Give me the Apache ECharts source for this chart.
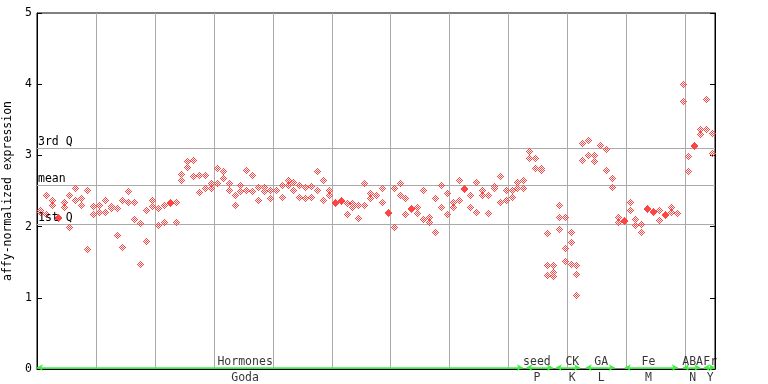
<!DOCTYPE html>
<html>
<head>
<meta charset="utf-8">
<script src="https://cdn.jsdelivr.net/npm/echarts@6/dist/echarts.min.js"></script>
<style>
html,body{margin:0;padding:0;background:#fff;}
#chart{width:768px;height:384px;}
</style>
</head>
<body>
<div id="chart"></div>
<script>
// replicate values per sample column (column i sits at i + 0.5 on the x axis)
const rep1 = [
  2.23,2.44,2.38,2.14,2.35,2.44,2.54,2.40,2.51,2.29,
  2.31,2.38,2.29,2.26,2.37,2.50,2.34,2.05,2.23,2.38,
  2.26,2.31,2.34,2.34,2.74,2.92,2.93,2.72,2.73,2.61,
  2.82,2.78,2.61,2.44,2.59,2.80,2.73,2.55,2.55,2.52,
  2.52,2.58,2.66,2.63,2.59,2.55,2.57,2.78,2.65,2.51,
  2.35,2.37,2.33,2.33,2.31,2.61,2.47,2.45,2.54,2.21,
  2.54,2.61,2.40,2.26,2.27,2.51,2.14,2.40,2.59,2.47,
  2.35,2.66,2.54,2.44,2.62,2.51,2.44,2.57,2.71,2.52,
  2.52,2.63,2.65,3.06,2.96,2.83,1.91,1.46,2.31,2.13,
  1.93,1.46,3.17,3.22,3.00,3.15,3.09,2.68,2.13,2.09,
  2.34,2.10,2.03,2.26,2.22,2.23,2.17,2.28,2.19,4.00,
  2.99,3.14,3.37,3.79,3.32
];
const rep2 = [
  2.20,2.17,2.31,2.12,2.27,1.99,2.38,2.31,1.68,2.17,
  2.20,2.21,2.26,1.88,1.71,2.34,2.10,1.48,1.80,2.29,
  2.02,2.07,2.33,2.07,2.66,2.84,2.71,2.48,2.54,2.54,
  2.61,2.68,2.52,2.30,2.50,2.52,2.50,2.38,2.50,2.40,
  2.51,2.42,2.59,2.51,2.42,2.40,2.42,2.52,2.38,2.45,
  2.33,2.36,2.17,2.27,2.12,2.30,2.40,2.44,2.35,2.19,
  2.00,2.45,2.17,2.25,2.19,2.10,2.06,1.93,2.28,2.17,
  2.27,2.37,2.53,2.28,2.20,2.45,2.19,2.54,2.34,2.38,
  2.42,2.54,2.54,2.97,2.83,2.79,1.46,1.36,2.13,1.70,
  1.78,1.34,2.93,3.00,2.92,3.14,2.79,2.56,2.06,2.08,
  2.23,2.02,1.93,2.25,2.21,2.09,2.16,2.21,null,3.77,
  2.78,3.13,3.30,3.37,3.03
];
const rep3Columns = [86, 87, 88, 89, 90, 91];
const rep3 = [1.32, 1.30, 1.96, 1.51, 1.47, 1.04];

const quartileNames = ['3rd Q', 'mean', '1st Q'];
const quartileValues = [3.10, 2.585, 2.04];

const groupNames = ['Hormones', 'seed', 'CK', 'GA', 'Fe', 'ABA', 'Fr'];
const groupSources = ['Goda', 'P', 'K', 'L', 'M', 'N', 'Y'];
const groupStart = [0, 83, 88, 93.1, 99.7, 109.6, 113.1];
const groupEnd = [82.4, 87.5, 92.1, 98, 108.7, 112.5, 115];
const groupLabelPos = [35.3, 84.8, 90.8, 95.7, 103.7, 111.2, 114.2];

const yTicks = [0, 1, 2, 3, 4, 5];
const columnCount = 115;

const pts = [];
rep1.forEach((v, i) => { if (v != null) pts.push([i + 0.5, v]); });
rep2.forEach((v, i) => { if (v != null) pts.push([i + 0.5, v]); });
rep3.forEach((v, k) => { pts.push([rep3Columns[k] + 0.5, v]); });

const FONT = 'DejaVu Sans Mono';

// checkered 7x7 diamond marker (style only)
const mk = document.createElement('canvas');
mk.width = 7; mk.height = 7;
const mctx = mk.getContext('2d');
mctx.fillStyle = '#ff4444';
for (let y = 0; y < 7; y++) {
  for (let x = 0; x < 7; x++) {
    const dx = x - 3, dy = y - 3;
    if (Math.abs(dx) + Math.abs(dy) <= 3 && ((dx + dy) & 1)) mctx.fillRect(x, y, 1, 1);
  }
}

const chart = echarts.init(document.getElementById('chart'), null, {renderer: 'canvas'});
chart.setOption({
  animation: false,
  backgroundColor: '#fff',
  grid: {left: 37, right: 53, top: 13, bottom: 15, show: true, borderColor: '#000', borderWidth: 1,
         backgroundColor: 'transparent', containLabel: false, outerBoundsMode: 'none'},
  xAxis: {
    type: 'value', min: 0, max: columnCount, interval: 10,
    axisLine: {show: true, lineStyle: {color: '#000', width: 1}},
    axisTick: {show: false}, axisLabel: {show: false},
    splitLine: {show: true, lineStyle: {color: '#aaaaaa', width: 1}}
  },
  yAxis: [{
    type: 'value', min: yTicks[0], max: yTicks[yTicks.length - 1], interval: 1,
    name: 'affy-normalized expression', nameLocation: 'middle', nameGap: 19,
    nameTextStyle: {fontFamily: FONT, fontSize: 11.5, color: '#000'},
    axisLine: {show: true, lineStyle: {color: '#000'}},
    axisTick: {show: true, inside: true, length: 5, lineStyle: {color: '#000'}},
    axisLabel: {fontFamily: FONT, fontSize: 11.5, color: '#000', margin: 5},
    splitLine: {show: false}
  }, {
    type: 'value', min: yTicks[0], max: yTicks[yTicks.length - 1], interval: 1, position: 'right',
    axisLine: {show: true, lineStyle: {color: '#000'}},
    axisTick: {show: true, inside: true, length: 5, lineStyle: {color: '#000'}},
    axisLabel: {show: false}, splitLine: {show: false}
  }],
  series: [{
    type: 'custom',
    data: pts,
    z: 5,
    renderItem: function (params, api) {
      const p = api.coord([api.value(0), api.value(1)]);
      return {
        type: 'image',
        style: {image: mk, x: Math.round(p[0]) - 3, y: Math.round(p[1]) - 3, width: 7, height: 7}
      };
    },
    markLine: {
      silent: true, symbol: 'none',
      lineStyle: {color: '#aaaaaa', type: 'solid', width: 1},
      label: {position: 'insideStartTop', distance: [1, 0], fontFamily: FONT, fontSize: 11.5, color: '#000', formatter: p => p.name},
      data: quartileValues.map((v, i) => ({name: quartileNames[i], yAxis: v}))
    }
  }, {
    type: 'scatter', silent: true, symbolSize: 0, z: 6,
    data: groupNames.map((n, i) => ({value: [groupLabelPos[i], 0], name: n})),
    label: {show: true, position: 'top', distance: 1, fontFamily: FONT, fontSize: 11.5, color: '#000', formatter: p => p.name},
    markLine: {
      silent: true, symbol: ['arrow', 'arrow'], symbolSize: [5, 6],
      lineStyle: {color: '#3ef03e', type: 'solid', width: 1.5},
      label: {show: false},
      data: groupNames.map((n, i) => [{coord: [groupStart[i], 0.02]}, {coord: [groupEnd[i], 0.02]}])
    }
  }, {
    type: 'scatter', silent: true, symbolSize: 0, z: 6,
    data: groupSources.map((n, i) => ({value: [groupLabelPos[i], 0], name: n})),
    label: {show: true, position: 'bottom', distance: 3, fontFamily: FONT, fontSize: 11.5, color: '#000', formatter: p => p.name}
  }]
});
</script>
</body>
</html>
